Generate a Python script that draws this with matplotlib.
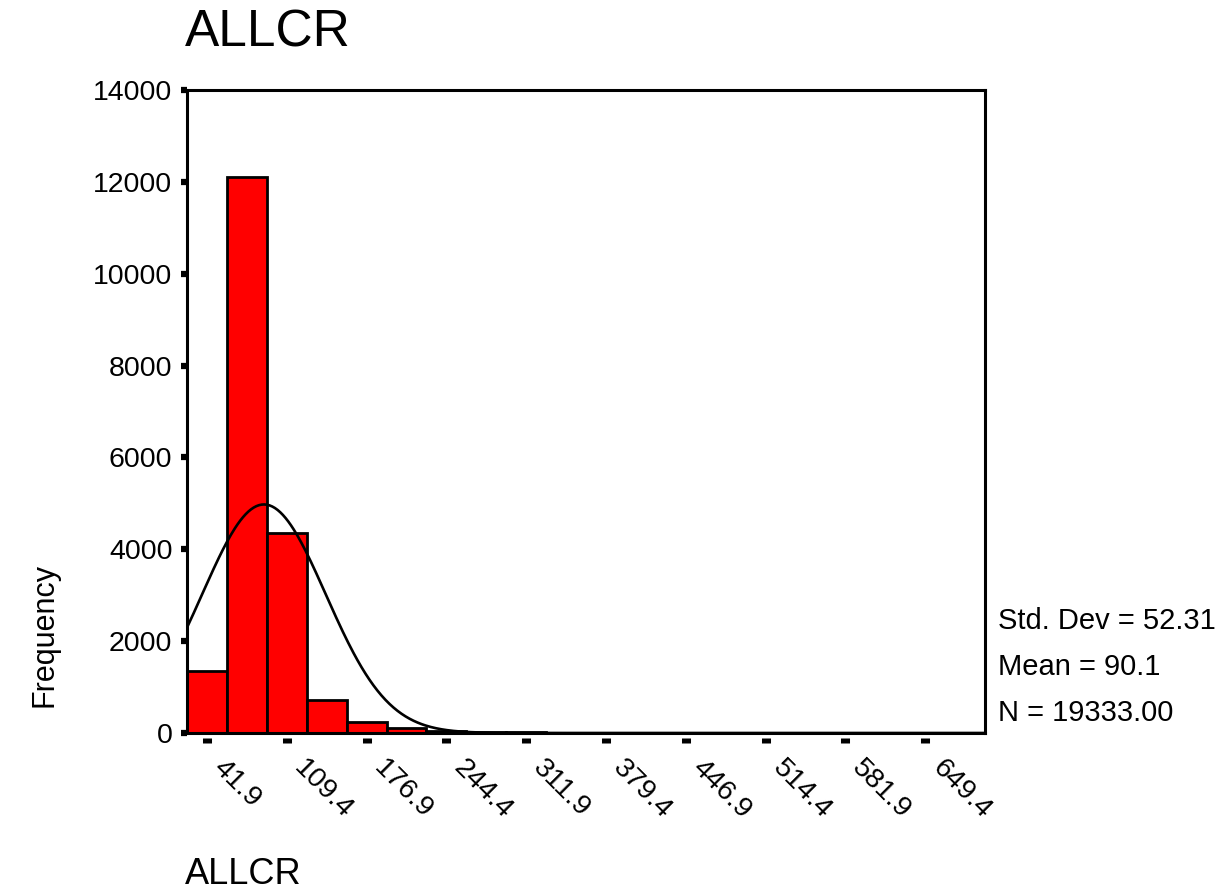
import numpy as np
import matplotlib
matplotlib.use("Agg")
from matplotlib import pyplot as plt
import matplotlib.transforms as mtransforms

plt.rcParams['font.family'] = ['Liberation Sans', 'DejaVu Sans']

# histogram of ALLCR, SPSS style
bin_width = 33.75
first_center = 41.9
counts = [1360, 12100, 4350, 725, 240, 110, 45, 28, 20, 0,
          0, 0, 0, 0, 0, 0, 0, 0, 0, 0]
tick_labels = ['41.9', '109.4', '176.9', '244.4', '311.9',
               '379.4', '446.9', '514.4', '581.9', '649.4']
std_dev = 52.31
mean = 90.1
n_total = 19333.00

centers = first_center + bin_width * np.arange(len(counts))
x_lo = centers[0] - bin_width / 2
x_hi = centers[-1] + bin_width / 2

fig = plt.figure(figsize=(12.31, 8.91), dpi=100)
ax = fig.add_axes([187 / 1231, 1 - 733 / 891, (985 - 187) / 1231, (733 - 90) / 891])

ax.bar(centers, counts, width=bin_width, color='#ff0000', edgecolor='black',
       linewidth=2.0, zorder=2)

# normal curve from the reported stats
xs = np.linspace(x_lo, x_hi, 600)
ys = n_total * bin_width / (std_dev * np.sqrt(2 * np.pi)) * np.exp(-0.5 * ((xs - mean) / std_dev) ** 2)
ax.plot(xs, ys, color='black', linewidth=1.9, zorder=3)

ax.set_xlim(x_lo, x_hi)
ax.set_ylim(0, 14000)
for s in ax.spines.values():
    s.set_linewidth(2.2)

ax.set_yticks(np.arange(0, 14001, 2000))
ax.tick_params(axis='y', direction='out', length=4.5, width=4.5, labelsize=20.5, pad=6)
ax.set_xticks([])

# x ticks sit a little below the frame
sec = ax.secondary_xaxis(-0.007)
sec.spines['bottom'].set_visible(False)
sec.set_xticks(centers[::2])
sec.set_xticklabels(tick_labels)
sec.tick_params(axis='x', direction='out', length=3.6, width=6.5, labelsize=20.5, pad=9)
offset = mtransforms.ScaledTranslation(20 / 100, 0, fig.dpi_scale_trans)
for lab in sec.get_xticklabels():
    lab.set_rotation(-45)
    lab.set_ha('left')
    lab.set_va('top')
    lab.set_rotation_mode('anchor')
    lab.set_transform(lab.get_transform() + offset)

fig.text(185 / 1231, 1 - 33 / 891, 'ALLCR', fontsize=37, ha='left', va='center')
fig.text(185 / 1231, 1 - 875 / 891, 'ALLCR', fontsize=26, ha='left', va='center')
fig.text(45 / 1231, 1 - 635 / 891, 'Frequency', fontsize=22, rotation=90,
         ha='center', va='center')

stats = ['Std. Dev = %.2f' % std_dev, 'Mean = %.1f' % mean, 'N = %.2f' % n_total]
for i, t in enumerate(stats):
    fig.text(998 / 1231, 1 - (621 + 46 * i) / 891, t, fontsize=21, ha='left', va='center')

fig.savefig('out.png', dpi=100)
